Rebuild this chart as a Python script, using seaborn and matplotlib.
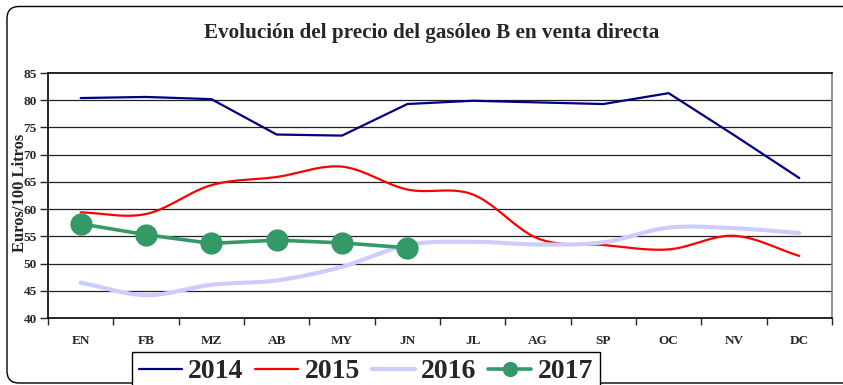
import numpy as np
import pandas as pd
import matplotlib
matplotlib.use("Agg")
import matplotlib.pyplot as plt
import matplotlib.patches as mpatches
from matplotlib.transforms import IdentityTransform
from matplotlib.ticker import FixedLocator
import seaborn as sns

# Monthly prices, euros per 100 litres
months = ["EN", "FB", "MZ", "AB", "MY", "JN", "JL", "AG", "SP", "OC", "NV", "DC"]
v2014 = [80.4, 80.6, 80.2, 73.7, 73.5, 79.3, 79.9, 79.6, 79.3, 81.3, 73.6, 65.7]
v2015 = [59.4, 59.1, 64.4, 65.9, 67.8, 63.6, 62.7, 54.6, 53.4, 52.6, 55.1, 51.4]
v2016 = [46.5, 44.2, 46.1, 46.9, 49.4, 53.4, 54.0, 53.5, 53.9, 56.6, 56.5, 55.6]
v2017 = [57.3, 55.3, 53.7, 54.3, 53.8, 52.9]
yticks = list(range(40, 90, 5))

SERIF = ["Liberation Serif", "DejaVu Serif"]

sns.set_style("white")
plt.rcParams["font.family"] = SERIF
plt.rcParams["font.weight"] = "bold"


def smooth_curve(values, steps=24):
    """Cubic Hermite (Catmull-Rom) curve through the monthly values."""
    y = np.asarray(values, dtype=float)
    m = np.gradient(y)
    xs, ys = [], []
    for i in range(len(y) - 1):
        t = np.linspace(0, 1, steps, endpoint=(i == len(y) - 2))
        h00 = 2 * t**3 - 3 * t**2 + 1
        h10 = t**3 - 2 * t**2 + t
        h01 = -2 * t**3 + 3 * t**2
        h11 = t**3 - t**2
        xs.append(i + t)
        ys.append(h00 * y[i] + h10 * m[i] + h01 * y[i + 1] + h11 * m[i + 1])
    return pd.DataFrame({"x": np.concatenate(xs), "precio": np.concatenate(ys)})


W, H = 843, 385
fig = plt.figure(figsize=(W / 100, H / 100), dpi=100)
ax = fig.add_axes([48 / W, 1 - 318 / H, (832 - 48) / W, (318 - 73) / H])

# Rounded outer frame of the chart
frame = mpatches.FancyBboxPatch((7, 2), 880, 376.5,
                                boxstyle="round,pad=0,rounding_size=12",
                                transform=IdentityTransform(),
                                facecolor="none", edgecolor="black", linewidth=1.0)
fig.patches.append(frame)

pos = np.arange(len(months))
df14 = pd.DataFrame({"x": pos, "precio": v2014})
df15 = smooth_curve(v2015)
df16 = smooth_curve(v2016)
df17 = pd.DataFrame({"x": pos[:len(v2017)], "precio": v2017})

sns.lineplot(data=df14, x="x", y="precio", ax=ax, color="#000080", linewidth=1.6,
             label="2014", sort=False)
sns.lineplot(data=df15, x="x", y="precio", ax=ax, color="#FF0000", linewidth=1.6,
             label="2015", sort=False)
sns.lineplot(data=df16, x="x", y="precio", ax=ax, color="#CCCCFF", linewidth=3.0,
             label="2016", sort=False)
sns.lineplot(data=df17, x="x", y="precio", ax=ax, color="#339966", linewidth=2.6,
             marker="o", markersize=16, markeredgewidth=0, label="2017", sort=False)

ax.set_xlim(-0.5, len(months) - 0.5)
ax.set_ylim(40, 85)
ax.set_xlabel("")
ax.set_ylabel("")

ax.set_yticks(yticks)
ax.set_yticklabels([str(v) for v in yticks], fontsize=9.5, fontweight="bold")
ax.tick_params(axis="y", direction="out", length=6, width=1, pad=2, left=True)

ax.set_xticks(pos)
ax.set_xticklabels(months, fontsize=9.5, fontweight="bold")
ax.tick_params(axis="x", which="major", length=0, pad=12)
ax.xaxis.set_minor_locator(FixedLocator(np.arange(-0.5, len(months), 1.0)))
ax.tick_params(axis="x", which="minor", direction="out", length=5, width=1, bottom=True)

for v in yticks[1:-1]:
    ax.axhline(v, color="#222222", linewidth=0.9, zorder=0.5)

for side in ["left", "bottom", "top"]:
    ax.spines[side].set_color("black")
    ax.spines[side].set_linewidth(1.2)
ax.spines["right"].set_color("#808080")
ax.spines["right"].set_linewidth(1.2)

fig.text(432 / W, 1 - 33 / H, "Evolución del precio del gasóleo B en venta directa",
         ha="center", va="center", fontsize=15.2, fontweight="bold")
fig.text(20 / W, 1 - 193 / H, "Euros/100 Litros", rotation=90,
         ha="center", va="center", fontsize=12, fontweight="bold")

handles, labels = ax.get_legend_handles_labels()
ax.get_legend().remove()
leg = fig.legend(handles, labels, loc="upper left",
                 bbox_to_anchor=(132 / W, 1 - 352 / H), ncol=4,
                 frameon=True, fancybox=False, edgecolor="black", framealpha=1,
                 prop={"family": SERIF, "weight": "bold", "size": 20},
                 handlelength=1.55, handletextpad=0.22, columnspacing=0.43,
                 borderpad=0.25, borderaxespad=0)
leg.get_frame().set_linewidth(1.0)
leg.legend_handles[3].set_markersize(11)

fig.savefig("out.png", dpi=100)
